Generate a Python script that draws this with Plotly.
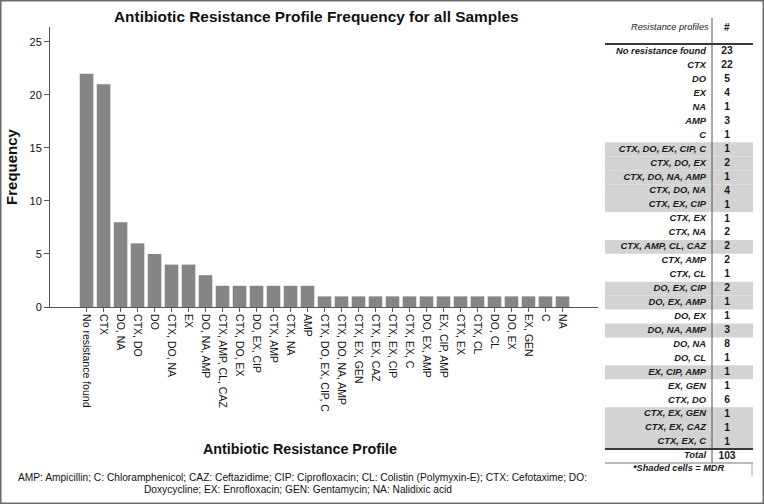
import plotly.graph_objects as go

# ---------------- data ----------------
categories = ["No resistance found", "CTX", "DO, NA", "CTX, DO", "DO", "CTX, DO, NA", "EX",
              "DO, NA, AMP", "CTX, AMP, CL, CAZ", "CTX, DO, EX", "DO, EX, CIP", "CTX, AMP",
              "CTX, NA", "AMP", "CTX, DO, EX, CIP, C", "CTX, DO, NA, AMP", "CTX, EX, GEN",
              "CTX, EX, CAZ", "CTX, EX, CIP", "CTX, EX, C", "DO, EX, AMP", "EX, CIP, AMP",
              "CTX, EX", "CTX, CL", "DO, CL", "DO, EX", "EX, GEN", "C", "NA"]
frequency = [22, 21, 8, 6, 5, 4, 4, 3, 2, 2, 2, 2, 2, 2,
             1, 1, 1, 1, 1, 1, 1, 1, 1, 1, 1, 1, 1, 1, 1]
y_ticks = [0, 5, 10, 15, 20, 25]

table_profiles = ["No resistance found", "CTX", "DO", "EX", "NA", "AMP", "C",
                  "CTX, DO, EX, CIP, C", "CTX, DO, EX", "CTX, DO, NA, AMP", "CTX, DO, NA",
                  "CTX, EX, CIP", "CTX, EX", "CTX, NA", "CTX, AMP, CL, CAZ", "CTX, AMP",
                  "CTX, CL", "DO, EX, CIP", "DO, EX, AMP", "DO, EX", "DO, NA, AMP", "DO, NA",
                  "DO, CL", "EX, CIP, AMP", "EX, GEN", "CTX, DO", "CTX, EX, GEN",
                  "CTX, EX, CAZ", "CTX, EX, C"]
table_counts = [23, 22, 5, 4, 1, 3, 1, 1, 2, 1, 4, 1, 1, 2, 2, 2, 1, 2, 1, 1, 3, 8, 1, 1,
                1, 6, 1, 1, 1]
table_mdr = [0, 0, 0, 0, 0, 0, 0, 1, 1, 1, 1, 1, 0, 0, 1, 0, 0, 1, 1, 0, 1, 0, 0, 1, 0, 0,
             1, 1, 1]
total_label = "Total"
total_value = sum(table_counts)

title_text = "Antibiotic Resistance Profile Frequency for all Samples"
x_title = "Antibiotic Resistance Profile"
y_title = "Frequency"
footnote_1 = ("AMP: Ampicillin; C: Chloramphenicol; CAZ: Ceftazidime; CIP: Ciprofloxacin; "
              "CL: Colistin (Polymyxin-E); CTX: Cefotaxime; DO:")
footnote_2 = "Doxycycline; EX: Enrofloxacin; GEN: Gentamycin; NA: Nalidixic acid"
table_note = "*Shaded cells = MDR"

# ---------------- layout constants ----------------
W, H = 764, 504
SANS = "Liberation Sans, Arial, Helvetica"

def px(x):
    return x / W

def py(y):
    return 1 - y / H

# table row index v -> pixel y = ROW0 + ROW_H * v
ROW0, ROW_H = 51.7, 13.94
y2_range = [(H - ROW0) / ROW_H, (0 - ROW0) / ROW_H]

def vrow(p):
    return (p - ROW0) / ROW_H

fig = go.Figure()

# main bars
fig.add_trace(go.Bar(
    x=categories, y=frequency,
    marker=dict(color="#858585", line=dict(width=0)),
    xaxis="x", yaxis="y", showlegend=False,
))

# table shading (MDR rows)
shaded_rows = [i for i, m in enumerate(table_mdr) if m]
fig.add_trace(go.Bar(
    y=shaded_rows, x=[148] * len(shaded_rows), base=605, width=1,
    orientation="h", marker=dict(color="#d3d3d3", line=dict(width=0)),
    xaxis="x2", yaxis="y2", showlegend=False,
))

rows = list(range(len(table_profiles)))
total_row = len(table_profiles)

# table profile names
fig.add_trace(go.Scatter(
    x=[706] * (len(rows) + 1), y=rows + [total_row],
    text=table_profiles + [total_label], mode="text", textposition="middle left",
    textfont=dict(family=SANS, size=9.4, color="#1a1a1a", style="italic", weight="bold"),
    xaxis="x2", yaxis="y2", showlegend=False,
))
# table counts
fig.add_trace(go.Scatter(
    x=[727] * (len(rows) + 1), y=rows + [total_row],
    text=[str(c) for c in table_counts] + [str(total_value)], mode="text",
    textposition="middle center",
    textfont=dict(family=SANS, size=10.3, color="#1a1a1a", weight="bold"),
    xaxis="x2", yaxis="y2", showlegend=False,
))

annotations = [
    dict(text="<b>" + title_text + "</b>", x=px(316), y=py(16), xref="paper", yref="paper",
         showarrow=False, font=dict(family=SANS, size=15.4, color="#111"),
         xanchor="center", yanchor="middle"),
    dict(text="<b>" + x_title + "</b>", x=px(300), y=py(449), xref="paper", yref="paper",
         showarrow=False, font=dict(family=SANS, size=14.3, color="#111"),
         xanchor="center", yanchor="middle"),
    dict(text=footnote_1, x=px(302), y=py(477), xref="paper", yref="paper",
         showarrow=False, font=dict(family=SANS, size=10.2, color="#111"),
         xanchor="center", yanchor="middle"),
    dict(text=footnote_2, x=px(298), y=py(489), xref="paper", yref="paper",
         showarrow=False, font=dict(family=SANS, size=10.2, color="#111"),
         xanchor="center", yanchor="middle"),
    dict(text="<i>Resistance profiles</i>", x=670, y=vrow(27), xref="x2", yref="y2",
         showarrow=False, font=dict(family=SANS, size=9.2, color="#1a1a1a"),
         xanchor="center", yanchor="middle"),
    dict(text="<b>#</b>", x=727, y=vrow(27), xref="x2", yref="y2",
         showarrow=False, font=dict(family=SANS, size=10, color="#1a1a1a"),
         xanchor="center", yanchor="middle"),
    dict(text="<b><i>" + table_note + "</i></b>", x=679, y=vrow(467.5),
         xref="x2", yref="y2", showarrow=False,
         font=dict(family=SANS, size=9.2, color="#1a1a1a"),
         xanchor="center", yanchor="middle"),
]

shapes = [
    # outer border
    dict(type="rect", xref="paper", yref="paper", x0=0, x1=1, y0=0, y1=1,
         line=dict(color="#6a6a6a", width=3)),
    # table header rule
    dict(type="line", xref="x2", yref="y2", x0=605, x1=753, y0=vrow(44), y1=vrow(44),
         line=dict(color="#3a3a3a", width=2)),
    # column separator
    dict(type="line", xref="x2", yref="y2", x0=712, x1=712, y0=vrow(18), y1=vrow(463),
         line=dict(color="#555", width=1)),
    # rule above total
    dict(type="line", xref="x2", yref="y2", x0=605, x1=753, y0=vrow(449), y1=vrow(449),
         line=dict(color="#3a3a3a", width=2)),
    # rule below total
    dict(type="line", xref="x2", yref="y2", x0=605, x1=753, y0=vrow(463), y1=vrow(463),
         line=dict(color="#777", width=1)),
    dict(type="line", xref="x2", yref="y2", x0=752, x1=752, y0=vrow(463), y1=vrow(476),
         line=dict(color="#aaa", width=1)),
]

fig.update_layout(
    width=W, height=H, autosize=False,
    margin=dict(l=0, r=0, t=0, b=0, pad=0),
    paper_bgcolor="white", plot_bgcolor="rgba(0,0,0,0)",
    bargap=0.2, showlegend=False,
    annotations=annotations, shapes=shapes,
    xaxis=dict(
        domain=[px(50), px(598)], range=[-2.15, 30.09], type="category",
        anchor="y", showgrid=False, zeroline=False,
        showline=True, linecolor="#555", linewidth=1,
        ticks="outside", ticklen=4, tickcolor="#555", tickwidth=1,
        tickangle=90, tickfont=dict(family=SANS, size=10.5, color="#111"),
        automargin=False, fixedrange=True,
    ),
    yaxis=dict(
        domain=[py(307), py(27)], range=[0, 26.4], anchor="x",
        showgrid=False, zeroline=False,
        showline=True, linecolor="#555", linewidth=1,
        ticks="outside", ticklen=5, tickcolor="#555", tickwidth=1,
        tickvals=y_ticks, tickfont=dict(family=SANS, size=11, color="#111"),
        title=dict(text="<b>" + y_title + "</b>", font=dict(family=SANS, size=15, color="#111"),
                   standoff=8),
        automargin=False, fixedrange=True,
    ),
    xaxis2=dict(domain=[px(600), 1], range=[600, 764], anchor="y2", visible=False,
                fixedrange=True),
    yaxis2=dict(domain=[0, 1], range=y2_range, anchor="x2", visible=False, fixedrange=True),
)

fig.write_html("out.html", config={"displayModeBar": False},
               post_script="document.body.style.margin='0px';")
